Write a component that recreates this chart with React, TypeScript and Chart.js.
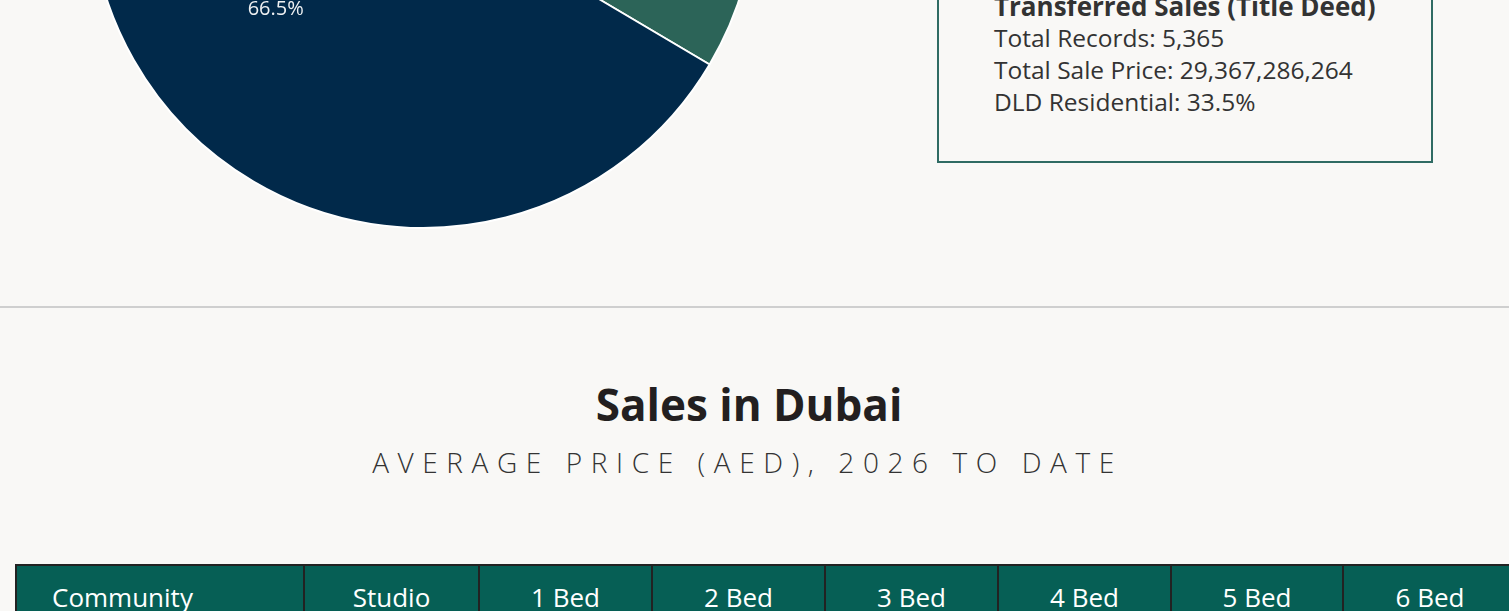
import React, { useEffect, useRef } from "react";
import { Chart, registerables } from "chart.js";

Chart.register(...registerables);

// ---- data ----
const sliceLabels = ["DLD Residential", "Other Sales"];
const sliceValues = [33.5, 66.5];
const sliceColors = ["#2C6458", "#01294A"];
const sliceValueLabels = ["33.5%", "66.5%"];

const legendTitle = "Transferred Sales (Title Deed)";
const legendLines = [
  "Total Records: 5,365",
  "Total Sale Price: 29,367,286,264",
  "DLD Residential: 33.5%",
];

const pageTitle = "Sales in Dubai";
const pageSubtitle = "AVERAGE PRICE (AED), 2026 TO DATE";
const tableColumns = ["Community", "Studio", "1 Bed", "2 Bed", "3 Bed", "4 Bed", "5 Bed", "6 Bed"];
const columnWidths = [288, 175, 173, 173, 173, 173, 172, 174];

const FONT = "'Open Sans', Lato, sans-serif";

const sliceLabelPlugin = {
  id: "sliceLabels",
  afterDatasetsDraw(chart: any) {
    const ctx = chart.ctx;
    const meta = chart.getDatasetMeta(0);
    meta.data.forEach((arc: any, i: number) => {
      const p = arc.getProps(["x", "y", "startAngle", "endAngle", "outerRadius"], true);
      const a = p.startAngle + (p.endAngle - p.startAngle) * 0.466;
      const d = p.outerRadius * 0.56;
      ctx.save();
      ctx.fillStyle = "#eef0f2";
      ctx.font = `20px ${FONT}`;
      ctx.textAlign = "center";
      ctx.textBaseline = "middle";
      ctx.fillText(sliceValueLabels[i], p.x + Math.cos(a) * d, p.y + Math.sin(a) * d);
      ctx.restore();
    });
  },
};

function PieChart() {
  const ref = useRef<HTMLCanvasElement | null>(null);
  useEffect(() => {
    if (!ref.current) return;
    const chart = new Chart(ref.current, {
      type: "pie",
      data: {
        labels: sliceLabels,
        datasets: [
          {
            data: sliceValues,
            backgroundColor: sliceColors,
            borderColor: "#ffffff",
            borderWidth: 2,
          },
        ],
      },
      options: {
        responsive: false,
        animation: false,
        layout: { padding: 0 },
        plugins: {
          legend: { display: false },
          tooltip: { enabled: false },
        },
      },
      plugins: [sliceLabelPlugin],
    });
    return () => chart.destroy();
  }, []);
  return (
    <canvas
      ref={ref}
      width={668}
      height={668}
      style={{ position: "absolute", left: 89, top: -439, width: 668, height: 668 }}
    />
  );
}

export default function App() {
  const tableWidth = columnWidths.reduce((s, w) => s + w, 0);
  return (
    <div
      style={{
        position: "fixed",
        left: 0,
        top: 0,
        width: 1509,
        height: 611,
        overflow: "hidden",
        background: "#F9F8F6",
        fontFamily: FONT,
      }}
    >
      <PieChart />

      <div
        style={{
          position: "absolute",
          left: 937,
          top: -100,
          width: 496,
          height: 263,
          boxSizing: "border-box",
          border: "2px solid #2F6B63",
        }}
      />
      <div style={{ position: "absolute", left: 994, top: -10, color: "#333" }}>
        <div style={{ fontSize: 26, fontWeight: 700, lineHeight: "32px", whiteSpace: "nowrap" }}>{legendTitle}</div>
        {legendLines.map((l) => (
          <div key={l} style={{ fontSize: 24.5, lineHeight: "32px", whiteSpace: "nowrap" }}>
            {l}
          </div>
        ))}
      </div>

      <div style={{ position: "absolute", left: 0, top: 306, width: 1509, height: 2, background: "#CFCFCF" }} />

      <div
        style={{
          position: "absolute",
          left: 0,
          width: 1498,
          top: 376,
          textAlign: "center",
          fontSize: 44,
          fontWeight: 700,
          color: "#231F20",
          lineHeight: "56px",
        }}
      >
        {pageTitle}
      </div>
      <div
        style={{
          position: "absolute",
          left: 0,
          width: 1495,
          top: 444,
          textAlign: "center",
          fontSize: 28,
          fontWeight: 300,
          letterSpacing: "8.6px",
          color: "#333",
          lineHeight: "36px",
        }}
      >
        {pageSubtitle}
      </div>

      <table
        style={{
          position: "absolute",
          left: 15,
          top: 564,
          width: tableWidth,
          borderCollapse: "collapse",
          tableLayout: "fixed",
          background: "#065F55",
          color: "#fff",
          fontSize: 26,
        }}
      >
        <colgroup>
          {columnWidths.map((w, i) => (
            <col key={i} style={{ width: w }} />
          ))}
        </colgroup>
        <thead>
          <tr>
            {tableColumns.map((c, i) => (
              <th
                key={c}
                style={{
                  border: "2px solid #222",
                  fontWeight: 400,
                  textAlign: i === 0 ? "left" : "center",
                  padding: i === 0 ? "15px 0 17px 35px" : "15px 0 17px",
                  lineHeight: "32px",
                  whiteSpace: "nowrap",
                }}
              >
                {c}
              </th>
            ))}
          </tr>
        </thead>
      </table>
    </div>
  );
}
